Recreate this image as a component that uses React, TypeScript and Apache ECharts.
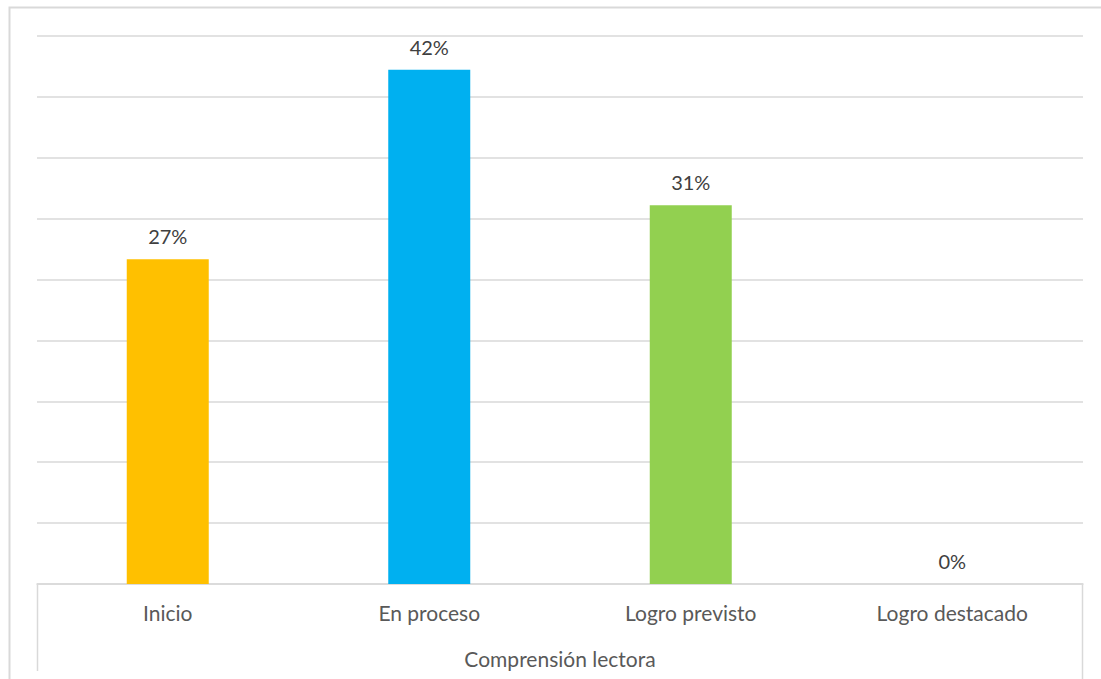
import React, { useEffect, useRef } from "react";
import * as echarts from "echarts";

const categories = ["Inicio", "En proceso", "Logro previsto", "Logro destacado"];
const values = [0.2667, 0.4222, 0.3111, 0];
const barColors = ["#FFC000", "#00B0F0", "#92D050", "#FF0000"];
const axisTitle = "Comprensión lectora";

export default function App() {
  const ref = useRef<HTMLDivElement>(null);
  useEffect(() => {
    const chart = echarts.init(ref.current!, null, { renderer: "svg" });
    chart.setOption({
      animation: false,
      textStyle: { fontFamily: "Lato, 'Open Sans', sans-serif" },
      grid: { left: 37, right: 18, top: 36, bottom: 95 },
      xAxis: {
        type: "category",
        data: categories,
        axisLine: { lineStyle: { color: "#d9d9d9", width: 1.5 } },
        axisTick: { show: false },
        axisLabel: { color: "#595959", fontSize: 21, margin: 18 },
        name: axisTitle,
        nameLocation: "middle",
        nameGap: 64,
        nameTextStyle: { color: "#595959", fontSize: 21 },
      },
      yAxis: {
        type: "value",
        min: 0,
        max: 0.45,
        interval: 0.05,
        axisLabel: { show: false },
        axisLine: { show: false },
        axisTick: { show: false },
        splitLine: { lineStyle: { color: "#d9d9d9", width: 1.5 } },
      },
      series: [
        {
          type: "bar",
          data: values.map((v, i) => ({ value: v, itemStyle: { color: barColors[i] } })),
          barWidth: 82,
          label: {
            show: true,
            position: "top",
            distance: 13,
            color: "#404040",
            fontSize: 20,
            formatter: (p: any) => Math.round(p.value * 100) + "%",
          },
        },
      ],
      graphic: [
        {
          type: "rect",
          shape: { x: 9.5, y: 7.5, width: 1200, height: 800 },
          style: { fill: "none", stroke: "#d9d9d9", lineWidth: 2 },
          silent: true,
        },
        {
          type: "line",
          shape: { x1: 37.5, y1: 584, x2: 37.5, y2: 671 },
          style: { stroke: "#d9d9d9", lineWidth: 1.5 },
        },
        {
          type: "line",
          shape: { x1: 1082.5, y1: 584, x2: 1082.5, y2: 679 },
          style: { stroke: "#d9d9d9", lineWidth: 1.5 },
        },
      ],
    });
    return () => chart.dispose();
  }, []);
  return <div ref={ref} style={{ width: 1101, height: 679, position: "absolute", left: 0, top: 0 }} />;
}
